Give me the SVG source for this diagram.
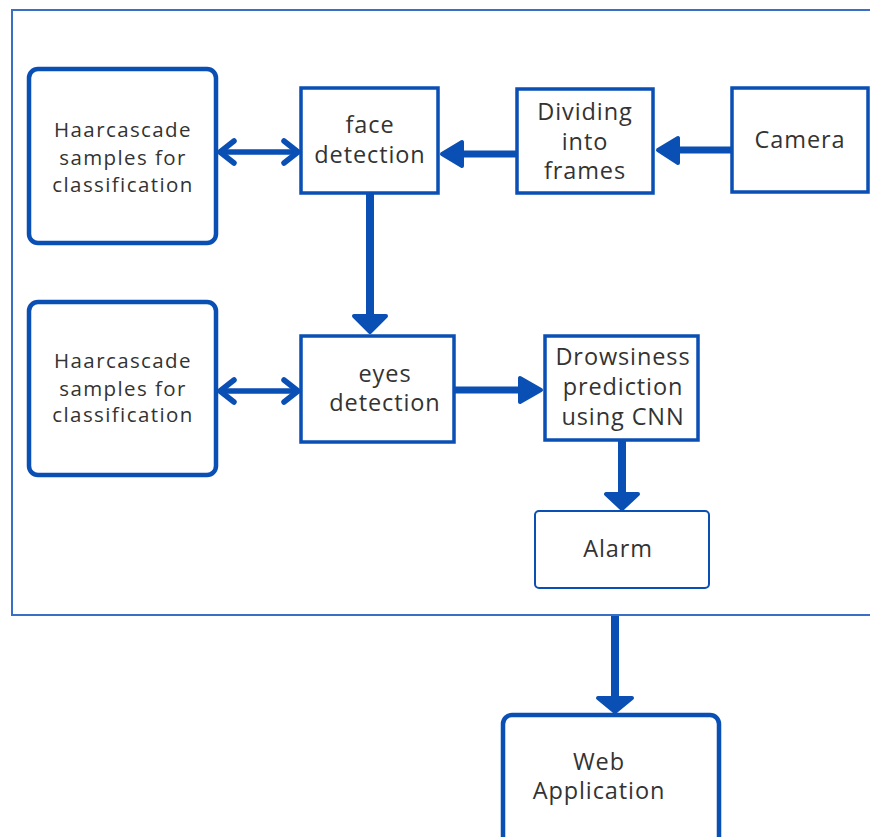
<svg xmlns="http://www.w3.org/2000/svg" width="870" height="837" viewBox="0 0 870 837">
<style>
.box{fill:#fff;stroke:#0a4fb4;stroke-width:3.5}
.thick{fill:#fff;stroke:#0a4fb4;stroke-width:4.5}
.thin{fill:#fff;stroke:#0a4fb4;stroke-width:2}
.t{font-family:"Open Sans","DejaVu Sans",sans-serif;font-size:23.5px;letter-spacing:0.9px;fill:#333;text-anchor:middle}
.s{font-size:20.5px;letter-spacing:1.4px}
.ln{stroke:#0a4fb4;fill:none}
.head{fill:#0a4fb4;stroke:#0a4fb4;stroke-width:4;stroke-linejoin:round}
.dbl{stroke:#0a4fb4;fill:none;stroke-width:5.5;stroke-linejoin:round;stroke-linecap:round}
</style>
<rect x="12" y="10" width="880" height="605" fill="none" stroke="#3a6fc6" stroke-width="2"/>
<g id="haar1"><rect class="thick" x="29" y="69" width="187" height="174" rx="9"/>
<text class="t s" x="123" y="137">Haarcascade</text><text class="t s" x="123" y="165">samples for</text><text class="t s" x="123" y="192">classification</text></g>
<g id="face"><rect class="box" x="301" y="88" width="137" height="105"/>
<text class="t" x="370" y="133">face</text><text class="t" x="370" y="163">detection</text></g>
<g id="divide"><rect class="box" x="517" y="89" width="136" height="104"/>
<text class="t" x="585" y="120">Dividing</text><text class="t" x="585" y="150">into</text><text class="t" x="585" y="179">frames</text></g>
<g id="camera"><rect class="box" x="732" y="88" width="136" height="104"/>
<text class="t" x="800" y="148">Camera</text></g>
<g id="haar2"><rect class="thick" x="29" y="302" width="187" height="173" rx="9"/>
<text class="t s" x="123" y="368">Haarcascade</text><text class="t s" x="123" y="396">samples for</text><text class="t s" x="123" y="422">classification</text></g>
<g id="eyes"><rect class="box" x="301" y="336" width="153" height="106"/>
<text class="t" x="385" y="382">eyes</text><text class="t" x="385" y="411">detection</text></g>
<g id="drowsiness"><rect class="box" x="545" y="336" width="153" height="104"/>
<text class="t" x="623" y="365">Drowsiness</text><text class="t" x="623" y="395">prediction</text><text class="t" x="623" y="425">using CNN</text></g>
<g id="alarm"><rect class="thin" x="535" y="511" width="174" height="77" rx="4"/>
<text class="t" x="618" y="557">Alarm</text></g>
<g id="webapp"><rect class="thick" x="503" y="715" width="216" height="140" rx="9"/>
<text class="t" x="599" y="770">Web</text><text class="t" x="599" y="799">Application</text></g>
<g id="connectors">
<line class="dbl" x1="221" y1="152" x2="296" y2="152"/>
<polyline class="dbl" points="234,141 220,152 234,163"/>
<polyline class="dbl" points="284,141 298,152 284,163"/>
<line class="dbl" x1="221" y1="391" x2="296" y2="391"/>
<polyline class="dbl" points="234,380 220,391 234,402"/>
<polyline class="dbl" points="284,380 298,391 284,402"/>
<line class="ln" x1="517" y1="154" x2="458" y2="154" stroke-width="7"/>
<polygon class="head" points="442,154 462,142 462,166"/>
<line class="ln" x1="732" y1="150" x2="675" y2="150" stroke-width="7"/>
<polygon class="head" points="658,150 678,138 678,163"/>
<line class="ln" x1="370" y1="193" x2="370" y2="318" stroke-width="8"/>
<polygon class="head" points="370,332 354,316 386,316"/>
<line class="ln" x1="454" y1="390" x2="522" y2="390" stroke-width="7"/>
<polygon class="head" points="541,390 520,378 520,402"/>
<line class="ln" x1="622" y1="440" x2="622" y2="495" stroke-width="8"/>
<polygon class="head" points="622,509 606,494 638,494"/>
<line class="ln" x1="615" y1="616" x2="615" y2="698" stroke-width="8"/>
<polygon class="head" points="615,712 598,698 632,698"/>
</g>
</svg>
